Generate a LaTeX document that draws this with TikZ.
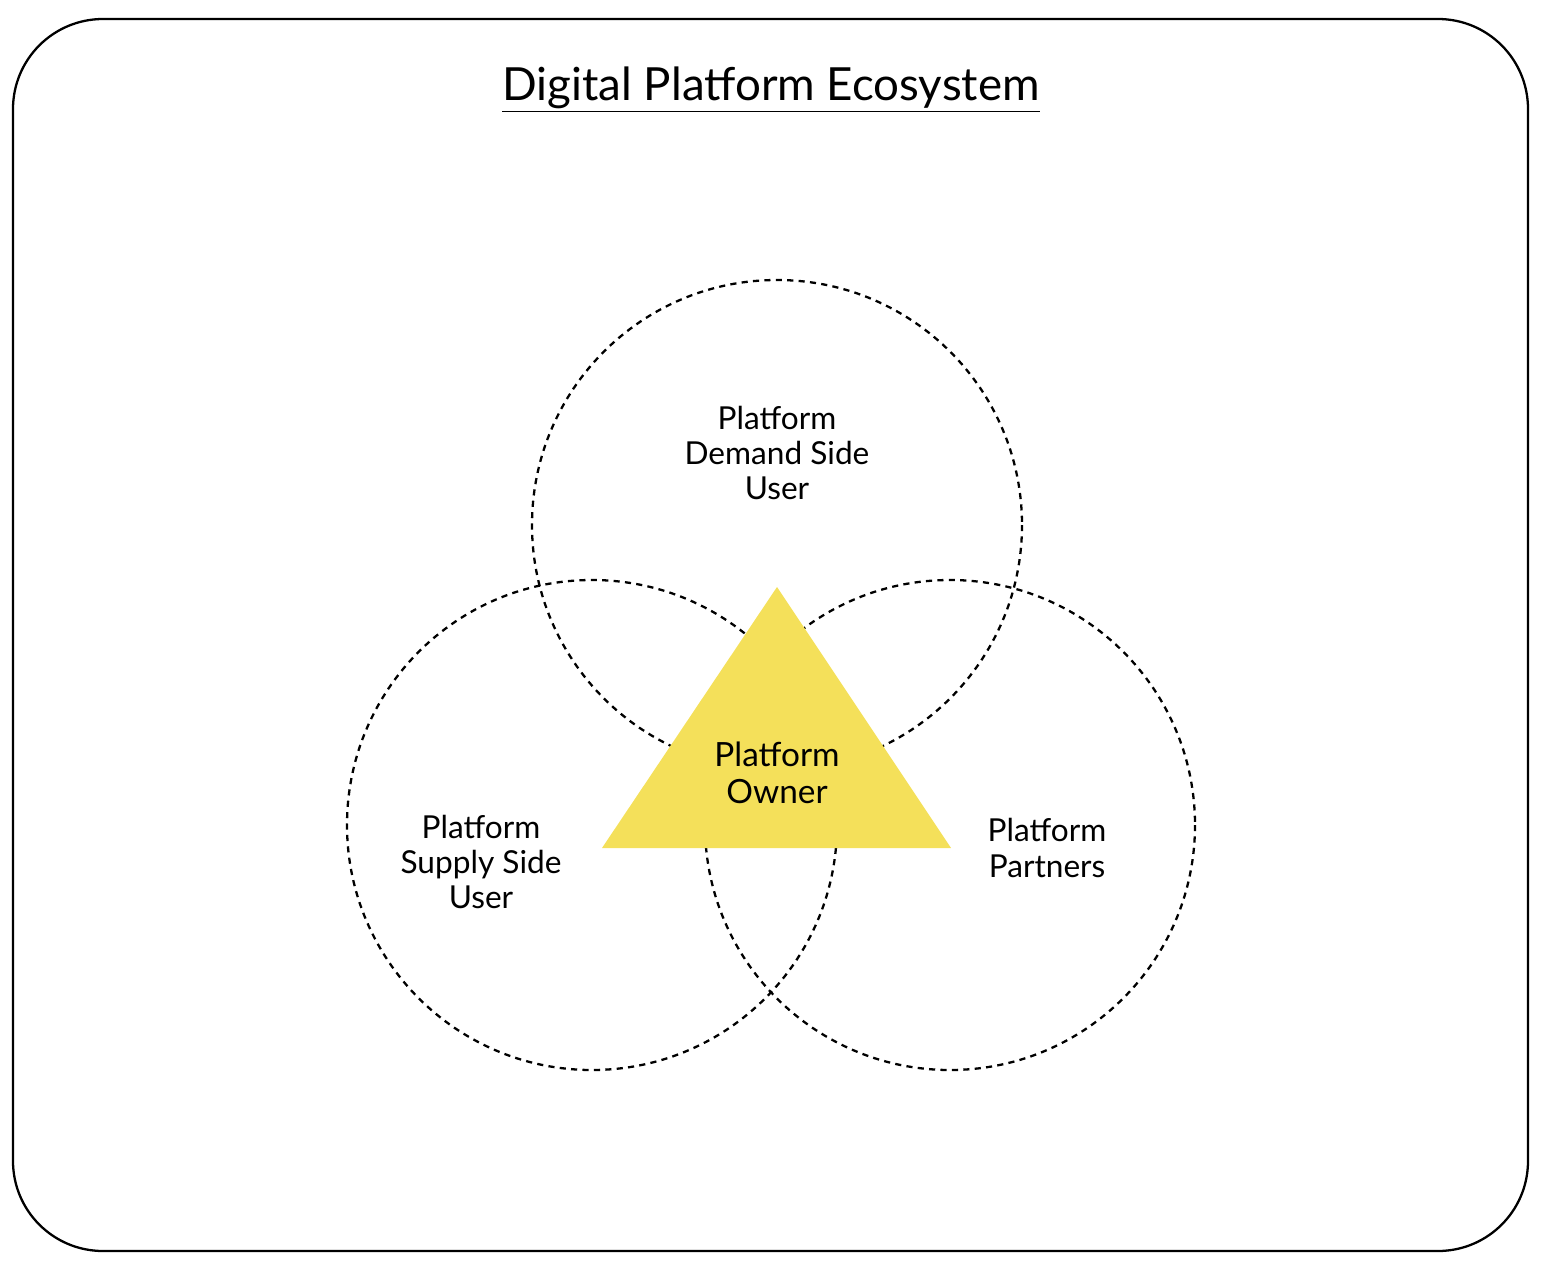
\documentclass[tikz,border=0pt]{standalone}
\usepackage{fontspec}
\setmainfont{Lato}
\definecolor{tri}{HTML}{F4E05A}
\begin{document}
\begin{tikzpicture}[x=0.02cm,y=-0.02cm,
  circ/.style={draw,dashed,line width=1.3pt,dash pattern=on 3.5pt off 3pt},
  lbl/.style={align=center,font=\fontsize{18}{20}\selectfont}]
\useasboundingbox (0,0) rectangle (1546,1268);
\draw[line width=1.3pt,rounded corners=1.8cm] (13,19) rectangle (1528,1251);
\node[font=\fontsize{26}{30}\selectfont] (title) at (771,90) {\underline{Digital Platform Ecosystem}};
\draw[circ] (777,525) circle (245);
\draw[circ] (592,825) circle (245);
\draw[circ] (950,825) circle (245);
\fill[tri] (777,587) -- (951,848) -- (602,848) -- cycle;
\node[lbl] (d) at (777,453) {Platform\\Demand Side\\User};
\node[lbl] (s) at (481,862) {Platform\\Supply Side\\User};
\node[lbl] (p) at (1047,848) {Platform\\Partners};
\node[lbl,font=\fontsize{19}{21}\selectfont] (o) at (777,773) {Platform\\Owner};
\end{tikzpicture}
\end{document}
